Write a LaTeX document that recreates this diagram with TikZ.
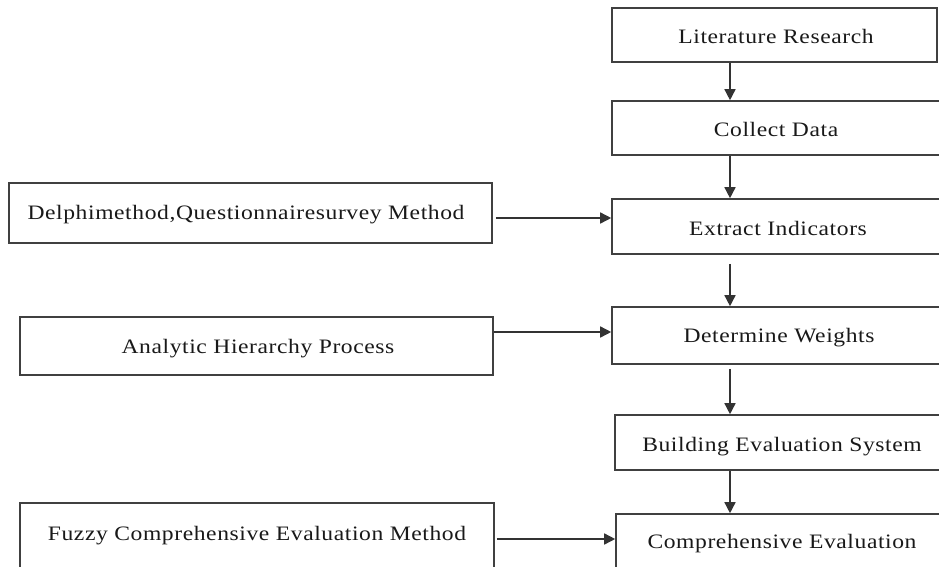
\documentclass[tikz,border=0pt]{standalone}
\usepackage{fontspec}
\setmainfont{Liberation Serif}[LetterSpace=2.5]
\usetikzlibrary{arrows.meta}
\begin{document}
\begin{tikzpicture}[x=1pt,y=-1pt,
  box/.style={draw=black!75, line width=1.6pt, rectangle, inner sep=0pt},
  txt/.style={anchor=base, font=\fontsize{20.5}{24}\selectfont, text=black!90, inner sep=0pt, transform shape, xscale=1.15},
  arr/.style={draw=black!80, line width=1.5pt, -{Triangle[length=11pt,width=11pt]}}]
\clip (0,0) rectangle (939,567);
\fill[white] (0,0) rectangle (939,567);
% right column boxes
\node[box, minimum width=325pt, minimum height=54pt] (lit) at (774.5,35) {};
\node[box, minimum width=336pt, minimum height=54pt] (coll) at (780,128) {};
\node[box, minimum width=336pt, minimum height=55pt] (ext) at (780,226.5) {};
\node[box, minimum width=336pt, minimum height=57pt] (det) at (780,335.5) {};
\node[box, minimum width=333pt, minimum height=55pt] (bes) at (781.5,442.5) {};
\node[box, minimum width=332pt, minimum height=86pt] (ce) at (782,557) {};
% left boxes
\node[box, minimum width=483pt, minimum height=60pt] (delphi) at (250.5,213) {};
\node[box, minimum width=473pt, minimum height=58pt] (ahp) at (256.5,346) {};
\node[box, minimum width=474pt, minimum height=97pt] (fuzzy) at (257,551.5) {};
% texts
\node[txt] (tlit) at (776,43.3) {Literature Research};
\node[txt] (tcoll) at (776,136.7) {Collect Data};
\node[txt] (text) at (778,235) {Extract Indicators};
\node[txt] (tdet) at (779,342) {Determine Weights};
\node[txt] (tbes) at (782,451) {Building Evaluation System};
\node[txt] (tce) at (782,548) {Comprehensive Evaluation};
\node[txt] (tdelphi) at (246,219.5) {Delphimethod,Questionnairesurvey Method};
\node[txt] (tahp) at (258,353) {Analytic Hierarchy Process};
\node[txt] (tfuzzy) at (257,540) {Fuzzy Comprehensive Evaluation Method};
% helper coordinates
\coordinate (col) at (730,0);
\coordinate (h1) at (0,218);
\coordinate (h2) at (0,332);
\coordinate (h3) at (0,539);
% vertical arrows
\draw[arr] (lit.south -| col) -- (coll.north -| col);
\draw[arr] (coll.south -| col) -- (ext.north -| col);
\draw[arr, shorten <=9pt] (ext.south -| col) -- (det.north -| col);
\draw[arr, shorten <=4pt] (det.south -| col) -- (bes.north -| col);
\draw[arr] (bes.south -| col) -- (ce.north -| col);
% horizontal arrows
\draw[arr, shorten <=3pt] (delphi.east |- h1) -- (ext.west |- h1);
\draw[arr] (ahp.east |- h2) -- (det.west |- h2);
\draw[arr, shorten <=2pt] (fuzzy.east |- h3) -- (ce.west |- h3);
\end{tikzpicture}
\end{document}
